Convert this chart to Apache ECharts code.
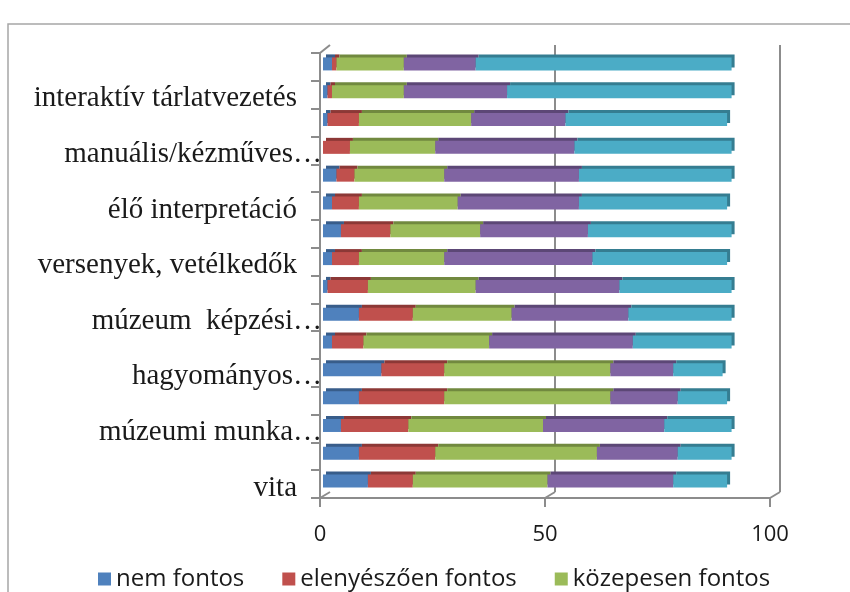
<!DOCTYPE html>
<html>
<head>
<meta charset="utf-8">
<script src="https://cdn.jsdelivr.net/npm/echarts@6/dist/echarts.min.js"></script>
<style>
  html, body { margin: 0; padding: 0; background: #fff; }
  #chart { width: 850px; height: 592px; }
</style>
</head>
<body>
<div id="chart"></div>
<script>
// categories from bottom to top; empty ones have no visible label
const categories = [
  'vita', '', 'múzeumi munka…', '', 'hagyományos…', '', 'múzeum  képzési…', '',
  'versenyek, vetélkedők', '', 'élő interpretáció', '', 'manuális/kézműves…', '',
  'interaktív tárlatvezetés', ''
]
const truncated = ['múzeumi munka…', 'hagyományos…', 'múzeum  képzési…', 'manuális/kézműves…']

const seriesNames = ['nem fontos', 'elenyészően fontos', 'közepesen fontos', 'fontos', 'nagyon fontos']
const nemFontos      = [10, 8, 4, 8, 13, 2, 8, 1, 2, 4, 2, 3, 0, 1, 1, 2]
const elenyeszoen    = [10, 17, 15, 19, 14, 7, 12, 9, 6, 11, 6, 4, 6, 7, 1, 1]
const kozepesen      = [30, 36, 30, 37, 37, 28, 22, 24, 19, 20, 22, 20, 19, 25, 16, 15]
const fontos         = [28, 18, 27, 15, 14, 32, 26, 32, 33, 24, 27, 30, 31, 21, 23, 16]
const nagyonFontos   = [12, 12, 15, 11, 11, 22, 23, 25, 30, 32, 33, 34, 35, 36, 50, 57]
const xTicks = [0, 50, 100]

const COLORS = ['#4F81BD', '#C0504D', '#9BBB59', '#8064A2', '#4BACC6']
const TOPS   = ['#385D8A', '#8C3836', '#71893F', '#5C4776', '#357D91']
const AXIS_GREY = '#8c8c8c'

const chart = echarts.init(document.getElementById('chart'))

const values = [nemFontos, elenyeszoen, kozepesen, fontos, nagyonFontos]
const series = values.map((arr, i) => ({
  name: seriesNames[i],
  type: 'bar',
  stack: 'total',
  xAxisIndex: 2,
  yAxisIndex: 2,
  barWidth: 13,
  data: arr,
  itemStyle: {
    color: COLORS[i],
    shadowColor: TOPS[i],
    shadowBlur: 0,
    shadowOffsetX: 3,
    shadowOffsetY: -3,
  },
  emphasis: { disabled: true },
}))

chart.setOption({
  animation: false,
  grid: [
    // visible front axes
    { left: 320, right: 80, top: 53, bottom: 94 },
    // back wall
    { left: 330, right: 70, top: 45, bottom: 100 },
    // bars (slightly pushed into depth)
    { left: 323, right: 78, top: 50, bottom: 97 },
  ],
  xAxis: [
    {
      gridIndex: 0, type: 'value', min: xTicks[0], max: xTicks[2], interval: 50,
      axisLine: { show: true, lineStyle: { color: AXIS_GREY, width: 2 } },
      axisTick: { show: true, length: 9, lineStyle: { color: AXIS_GREY, width: 2 } },
      splitLine: { show: false },
      axisLabel: { margin: 26, color: '#1a1a1a', fontSize: 22, fontFamily: 'Open Sans' },
    },
    {
      gridIndex: 1, type: 'value', min: 0, max: 100, interval: 50,
      axisLine: { show: false }, axisTick: { show: false }, axisLabel: { show: false },
      splitLine: { show: true, showMinLine: false, lineStyle: { color: AXIS_GREY, width: 2 } },
    },
    {
      gridIndex: 2, type: 'value', min: 0, max: 100, show: false,
    },
  ],
  yAxis: [
    {
      gridIndex: 0, type: 'category', data: categories,
      axisLine: { show: true, lineStyle: { color: AXIS_GREY, width: 2 } },
      axisTick: { show: true, length: 9, lineStyle: { color: AXIS_GREY, width: 2 } },
      axisLabel: {
        interval: 0,
        margin: -2,
        formatter: v => v === '' ? '' : (truncated.includes(v) ? `{t|${v}}` : `{n|${v}}`),
        rich: {
          n: { fontFamily: 'Liberation Serif', fontSize: 29, color: '#1a1a1a', padding: [8, 25, 0, 0] },
          t: { fontFamily: 'Liberation Serif', fontSize: 29, color: '#1a1a1a', padding: [8, 0, 0, 0] },
        },
      },
    },
    { gridIndex: 1, type: 'category', data: categories, show: false },
    { gridIndex: 2, type: 'category', data: categories, show: false },
  ],
  legend: {
    data: seriesNames,
    left: 93,
    top: 562,
    width: 700,
    icon: 'rect',
    itemWidth: 13,
    itemHeight: 13,
    itemGap: 38,
    textStyle: { fontFamily: 'Open Sans', fontSize: 24, color: '#1a1a1a' },
  },
  graphic: [
    { type: 'rect', shape: { x: 8, y: 24, width: 900, height: 600 }, style: { fill: 'none', stroke: '#a6a6a6', lineWidth: 1.5 }, silent: true, z: -10 },
    { type: 'line', shape: { x1: 320, y1: 53, x2: 330, y2: 45 }, style: { stroke: AXIS_GREY, lineWidth: 2 }, silent: true },
    { type: 'line', shape: { x1: 320, y1: 498, x2: 330, y2: 492 }, style: { stroke: AXIS_GREY, lineWidth: 2 }, silent: true },
    { type: 'line', shape: { x1: 545, y1: 498, x2: 555, y2: 492 }, style: { stroke: AXIS_GREY, lineWidth: 2 }, silent: true },
    { type: 'line', shape: { x1: 770, y1: 498, x2: 780, y2: 492 }, style: { stroke: AXIS_GREY, lineWidth: 2 }, silent: true },
  ],
  series,
})
</script>
</body>
</html>
